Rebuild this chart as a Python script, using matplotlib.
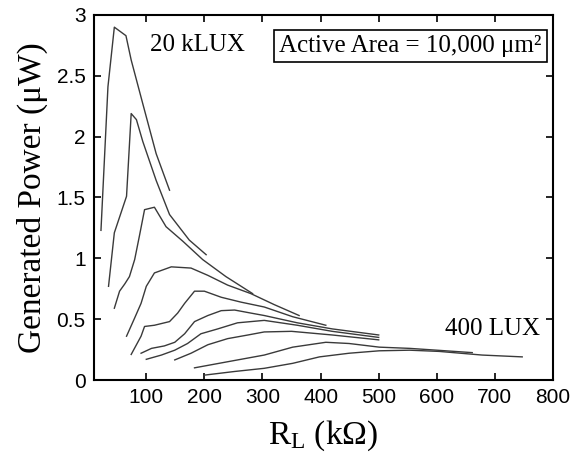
import matplotlib
matplotlib.use("Agg")
import matplotlib.pyplot as plt

plt.rcParams['mathtext.fontset'] = 'custom'
plt.rcParams['mathtext.rm'] = 'Liberation Serif'
plt.rcParams['mathtext.it'] = 'Liberation Serif:italic'

# load resistance (kOhm) and generated power (uW), one pair per light level
# from 20 kLUX (top) down to 400 LUX (bottom)
r1 = [22, 34, 45, 65, 74, 94, 117, 140]
p1 = [1.23, 2.41, 2.90, 2.83, 2.63, 2.27, 1.86, 1.56]

r2 = [35, 45, 66, 70, 74, 83, 94, 117, 140, 174, 203]
p2 = [0.77, 1.21, 1.51, 1.85, 2.19, 2.14, 1.96, 1.64, 1.36, 1.15, 1.03]

r3 = [45, 54, 63, 71, 80, 88, 97, 114, 134, 163, 197, 237, 283]
p3 = [0.59, 0.73, 0.79, 0.85, 0.99, 1.18, 1.40, 1.42, 1.26, 1.14, 0.99, 0.85, 0.71]

r4 = [66, 80, 91, 100, 114, 143, 177, 206, 240, 280, 320, 363]
p4 = [0.36, 0.51, 0.63, 0.77, 0.88, 0.93, 0.92, 0.86, 0.78, 0.71, 0.62, 0.53]

r5 = [74, 91, 97, 114, 140, 154, 166, 183, 200, 229, 263, 303, 352, 409]
p5 = [0.21, 0.36, 0.44, 0.45, 0.48, 0.55, 0.63, 0.73, 0.73, 0.68, 0.64, 0.60, 0.52, 0.45]

r6 = [91, 109, 131, 149, 166, 183, 206, 229, 252, 280, 303, 360, 420, 500]
p6 = [0.22, 0.26, 0.28, 0.31, 0.38, 0.48, 0.53, 0.57, 0.575, 0.55, 0.53, 0.47, 0.42, 0.37]

r7 = [100, 126, 149, 171, 194, 223, 257, 303, 360, 420, 500]
p7 = [0.17, 0.205, 0.245, 0.30, 0.38, 0.42, 0.47, 0.49, 0.45, 0.40, 0.35]

r8 = [149, 177, 206, 240, 275, 303, 350, 420, 500]
p8 = [0.165, 0.22, 0.29, 0.34, 0.37, 0.395, 0.40, 0.37, 0.33]

r9 = [183, 240, 303, 352, 409, 449, 501, 553, 600, 661]
p9 = [0.10, 0.15, 0.205, 0.27, 0.31, 0.30, 0.27, 0.26, 0.245, 0.225]

r10 = [200, 252, 303, 352, 398, 449, 501, 553, 604, 678, 747]
p10 = [0.04, 0.07, 0.096, 0.137, 0.19, 0.22, 0.24, 0.245, 0.235, 0.205, 0.19]

curves = [(r1, p1), (r2, p2), (r3, p3), (r4, p4), (r5, p5),
          (r6, p6), (r7, p7), (r8, p8), (r9, p9), (r10, p10)]

xticks = [100, 200, 300, 400, 500, 600, 700, 800]
yticks = [0, 0.5, 1, 1.5, 2, 2.5, 3]
ytick_labels = ['0', '0.5', '1', '1.5', '2', '2.5', '3']

fig = plt.figure(figsize=(5.82, 4.58), dpi=100)
ax = fig.add_axes([94 / 582, 78 / 458, 459 / 582, 365 / 458])

for r, p in curves:
    ax.plot(r, p, color='#3a3a3a', lw=1.0)

ax.set_xlim(10, 800)
ax.set_ylim(0, 3)
ax.set_xticks(xticks)
ax.set_yticks(yticks)
ax.set_yticklabels(ytick_labels)
ax.tick_params(direction='in', length=5, width=1.2, top=True, right=True,
               labelsize=15, pad=6)
for lab in ax.get_xticklabels() + ax.get_yticklabels():
    lab.set_fontfamily('Liberation Sans')
for s in ax.spines.values():
    s.set_linewidth(1.5)

serif = 'Liberation Serif'
ax.set_ylabel('Generated Power (μW)', fontsize=24, family=serif, labelpad=6)
ax.set_xlabel(r'R$_{\mathrm{L}}$ (kΩ)', fontsize=24, family=serif, labelpad=8)

ax.text(106, 2.75, '20 kLUX', fontsize=18, family=serif, va='center', ha='left')
ax.text(778, 0.42, '400 LUX', fontsize=18, family=serif, va='center', ha='right')
ax.text(0.975, 0.915, 'Active Area = 10,000 μm²', transform=ax.transAxes,
        fontsize=18, family=serif, va='center', ha='right',
        bbox=dict(boxstyle='square,pad=0.2', fc='white', ec='black', lw=1.2))

fig.savefig('out.png', dpi=100)
